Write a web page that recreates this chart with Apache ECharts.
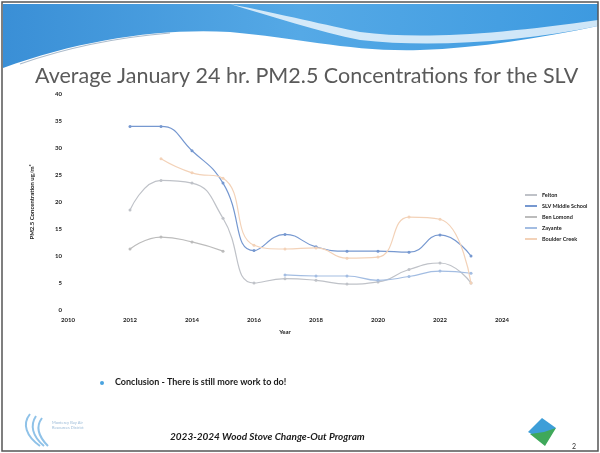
<!DOCTYPE html>
<html><head><meta charset="utf-8">
<script src="https://cdn.jsdelivr.net/npm/echarts@6/dist/echarts.min.js"></script>
<style>html,body{margin:0;padding:0;background:#fff}#c{width:600px;height:453px}</style>
</head><body><div id="c"></div>
<script>
var years = [2012,2013,2014,2015,2016,2017,2018,2019,2020,2021,2022,2023];
var seriesNames = ['Felton','SLV Middle School','Ben Lomond','Zayante','Boulder Creek'];
var felton       = [18.5,24,23.5,17,5,5.8,5.5,4.8,5.2,7.5,8.7,5];
var slvMiddle    = [34,34,29.5,23.5,11,14,11.7,10.9,10.9,10.7,13.9,10];
var benLomond    = [11.3,13.5,12.6,10.9,null,null,null,null,null,null,null,null];
var zayante      = [null,null,null,null,null,6.5,6.3,6.3,5.5,6.2,7.2,6.8];
var boulderCreek = [null,28,25.4,24.4,12,11.3,11.5,9.6,9.8,17.2,16.8,5];
var yTicks = [0,5,10,15,20,25,30,35,40];
var xTicks = [2010,2012,2014,2016,2018,2020,2022,2024];

var colors = ['#bfc2c8','#7698d0','#bcbcbc','#a3bde2','#f3d2b8'];
var allVals = [felton,slvMiddle,benLomond,zayante,boulderCreek];
function pairs(v){var o=[];for(var i=0;i<years.length;i++){if(v[i]!==null)o.push([years[i],v[i]]);}return o;}

function shape(name,d){ try{ echarts.graphic.registerShape(name, echarts.graphic.extendPath(d,{})); return true;}catch(e){return false;} }
var okWave = shape('waveBlue','M3,4 L598,4 L598,26 C540,38 480,48 420,50 C350,52 300,38 230,32 C160,28 80,40 3,68 Z');
shape('waveWhite','M230,4 C280,14 330,26 360,32 C420,40 500,34 598,20 L598,26 C520,42 430,48 360,40 C320,32 270,16 230,4 Z');
shape('waveLine','M20,64 C60,50 110,38 170,33');
shape('logoArcs','M40,446 C26,436 22,424 30,414 M44,446 C32,436 30,425 36,416 M48,446 C38,436 36,426 42,418');

var chart = echarts.init(document.getElementById('c'),null,{renderer:'canvas'});
var series = seriesNames.map(function(n,i){
  return {name:n,type:'line',smooth:0.5,data:pairs(allVals[i]),
    symbol:'circle',symbolSize:3,showSymbol:true,
    lineStyle:{width:1.2,color:colors[i]},itemStyle:{color:colors[i]},z:3};
});
var g = [
    {type:'rect',shape:{x:2,y:2,width:596,height:449},style:{fill:'none',stroke:'#555',lineWidth:1.5},z:100},
    {type:'text',left:35,top:65,style:{text:'Average January 24 hr. PM2.5 Concentrations for the SLV',fill:'#5a5a5a',font:'21.5px Lato'},z:10},
    {type:'circle',shape:{cx:102,cy:383,r:2},style:{fill:'#4aa3df'}},
    {type:'text',left:115,top:378,style:{text:'Conclusion - There is still more work to do!',fill:'#1a1a1a',font:'bold 9px Lato'}},
    {type:'text',left:170,top:432,style:{text:'2023-2024 Wood Stove Change-Out Program',fill:'#1a1a1a',font:'italic bold 10px Lato'}},
    {type:'text',left:52,top:420,style:{text:'Monterey Bay Air\nResources District',fill:'#9bbbd8',font:'4px Lato',lineHeight:5}},
    {type:'polygon',shape:{points:[[528,432],[542,418],[556,428],[542,440]]},style:{fill:'#3d9ed8'}},
    {type:'polygon',shape:{points:[[530,434],[544,432],[556,428],[545,446]]},style:{fill:'#3fa85a'}},
    {type:'text',left:572,top:443,style:{text:'2',fill:'#333',font:'7px Lato'}}
];
if (okWave) {
  g.push({type:'waveBlue',style:{fill:new echarts.graphic.LinearGradient(0,0,1,0,[{offset:0,color:'#3a8fd6'},{offset:0.5,color:'#55a9e6'},{offset:1,color:'#3d9ae0'}])},z:1});
  g.push({type:'waveWhite',style:{fill:'rgba(255,255,255,0.75)'},z:2});
  g.push({type:'waveLine',style:{fill:'none',stroke:'rgba(150,170,190,0.8)',lineWidth:1.2},z:2});
  g.push({type:'logoArcs',style:{fill:'none',stroke:'#8fc2e8',lineWidth:2},z:2});
}
chart.setOption({
  animation:false,
  backgroundColor:'#ffffff',
  grid:{left:68,right:98,top:94,bottom:143},
  xAxis:{type:'value',min:2010,max:2024,interval:2,
    name:'Year',nameLocation:'middle',nameGap:19,
    nameTextStyle:{fontSize:6,fontWeight:'bold',color:'#222',fontFamily:'Lato'},
    axisLine:{show:false},axisTick:{show:false},splitLine:{show:false},
    axisLabel:{margin:7,fontSize:6,fontWeight:'bold',color:'#222',fontFamily:'Lato',
      formatter:function(v){return xTicks.indexOf(v)>=0?String(v):'';}}},
  yAxis:{type:'value',min:0,max:40,interval:5,
    name:'PM2.5 Concentration ug/m\u00b3',nameLocation:'middle',nameGap:33,
    nameTextStyle:{fontSize:6,fontWeight:'bold',color:'#222',fontFamily:'Lato'},
    axisLine:{show:false},axisTick:{show:false},splitLine:{show:false},
    axisLabel:{margin:6,fontSize:6,fontWeight:'bold',color:'#222',fontFamily:'Lato',
      formatter:function(v){return yTicks.indexOf(v)>=0?String(v):'';}}},
  legend:{orient:'vertical',left:520,top:187,itemWidth:12,itemHeight:2,itemGap:5,
    icon:'rect',textStyle:{fontSize:5.5,fontWeight:'bold',color:'#222',fontFamily:'Lato'},
    data:seriesNames},
  series:series,
  graphic:g
});
</script></body></html>
